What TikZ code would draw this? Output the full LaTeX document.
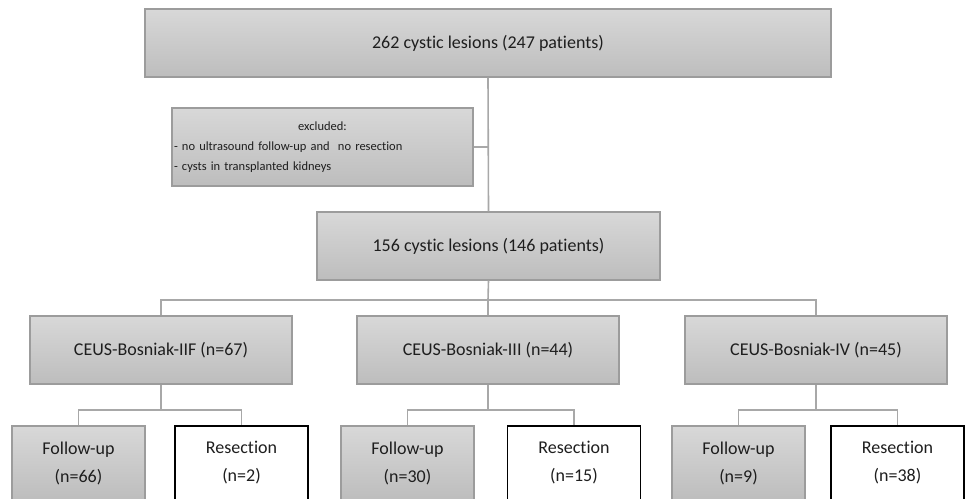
\documentclass[tikz,border=0pt]{standalone}
\usepackage{fontspec}
\setmainfont{Carlito}[RawFeature={-liga;-clig}]
\definecolor{boxtop}{HTML}{D8D8D8}
\definecolor{boxbot}{HTML}{BDBDBD}
\definecolor{boxline}{HTML}{9C9C9C}
\definecolor{linkgrey}{HTML}{A8A8A8}
\definecolor{textgrey}{HTML}{1E1E1E}
\begin{document}
\begin{tikzpicture}[x=1pt,y=-1pt,
            box/.style={rectangle, inner sep=0pt, align=center, text=textgrey, font=\fontsize{18}{28}\selectfont},
            greybox/.style={box, draw=boxline, line width=1.2pt, top color=boxtop, bottom color=boxbot},
            whitebox/.style={box, draw=black, line width=1.3pt, fill=white},
            link/.style={draw=linkgrey, line width=1.6pt}]
            \useasboundingbox (0,0) rectangle (965,498);
            \clip (0,0) rectangle (965,498);

            \coordinate (bus) at (488,300);
            \coordinate (s1) at (161,410);
            \coordinate (s2) at (488,410);
            \coordinate (s3) at (816,410);

            \node[greybox, minimum width=686, minimum height=68] (all) at (488,43) {262 cystic lesions (247 patients)};
            \node[greybox, minimum width=301, minimum height=78, text width=297, inner xsep=2pt, align=left,
                  font=\fontsize{12.5}{20}\selectfont] (excl) at (322.5,147)
                  {\hfill excluded:\hfill\hbox{}\\- no ultrasound follow-up and~~no resection\\- cysts in transplanted kidneys};
            \node[greybox, minimum width=343, minimum height=68] (incl) at (488.5,246) {156 cystic lesions (146 patients)};

            \node[greybox, minimum width=262, minimum height=68] (b1) at (161,350) {CEUS-Bosniak-IIF (n=67)};
            \node[greybox, minimum width=262, minimum height=68] (b2) at (488,350) {CEUS-Bosniak-III (n=44)};
            \node[greybox, minimum width=262, minimum height=68] (b3) at (816,350) {CEUS-Bosniak-IV (n=45)};

            \node[greybox, minimum width=133, minimum height=74] (f1) at (78.5,463) {Follow-up\\(n=66)};
            \node[whitebox, minimum width=133, minimum height=74] (r1) at (241.5,463) {Resection\\(n=2)};
            \node[greybox, minimum width=133, minimum height=74] (f2) at (407.5,463) {Follow-up\\(n=30)};
            \node[whitebox, minimum width=133, minimum height=74] (r2) at (574,463) {Resection\\(n=15)};
            \node[greybox, minimum width=133, minimum height=74] (f3) at (738.5,463) {Follow-up\\(n=9)};
            \node[whitebox, minimum width=133, minimum height=74] (r3) at (897.5,463) {Resection\\(n=38)};

            \draw[link] (all.south) -- (incl.north);
            \draw[link] (excl.east) -- (excl.east -| all.south);
            \draw[link] (incl.south) -- (bus);
            \draw[link] (b1.north) |- (bus) -| (b3.north);
            \draw[link] (bus) -- (b2.north);

            \draw[link] (b1.south) -- (s1);
            \draw[link] (f1.north) |- (s1) -| (r1.north);
            \draw[link] (b2.south) -- (s2);
            \draw[link] (f2.north) |- (s2) -| (r2.north);
            \draw[link] (b3.south) -- (s3);
            \draw[link] (f3.north) |- (s3) -| (r3.north);
        \end{tikzpicture}
\end{document}
